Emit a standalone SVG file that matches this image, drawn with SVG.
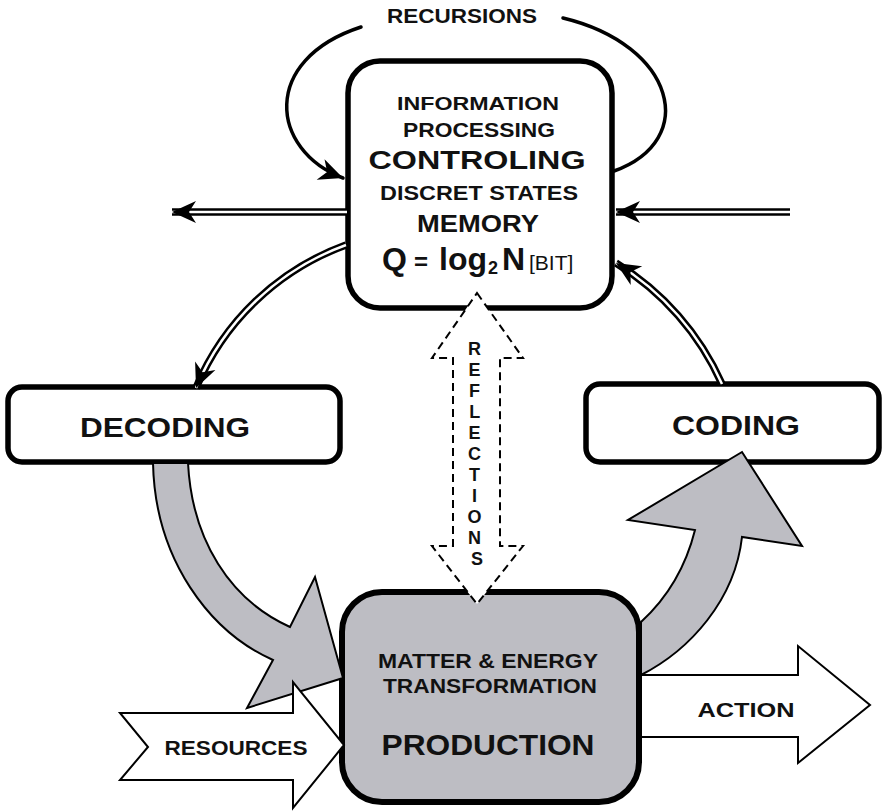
<svg xmlns="http://www.w3.org/2000/svg" width="886" height="812" viewBox="0 0 886 812">
  <style>
    .box { fill: #ffffff; stroke: #000000; stroke-width: 5.5; }
    .box-gray { fill: #bdbdc3; stroke: #000000; stroke-width: 6; }
    .t { font-family: "Liberation Sans", Arial, sans-serif; font-weight: bold; fill: #111111; text-anchor: middle; }
    .flow-gray { fill: #bdbdc3; stroke: #000000; stroke-width: 2; stroke-linejoin: miter; }
    .flow-white { fill: #ffffff; stroke: #000000; stroke-width: 2; stroke-linejoin: miter; }
    .dbl-out { fill: none; stroke: #000000; stroke-width: 7.5; }
    .dbl-in { fill: none; stroke: #ffffff; stroke-width: 2.5; }
    .loop { fill: none; stroke: #000000; stroke-width: 3.5; stroke-linecap: round; }
    .dashed { fill: #ffffff; stroke: #000000; stroke-width: 2; stroke-dasharray: 8 5; }
  </style>
  <defs>
    <!-- barbed arrowhead, tip at the path end -->
    <marker id="ah" markerUnits="userSpaceOnUse" viewBox="-26 -13 28 26" refX="0" refY="0" markerWidth="28" markerHeight="26" orient="auto">
      <path d="M0,0 L-24,-11 L-17,0 L-24,11 Z" fill="#000000"/>
    </marker>
  </defs>

  <rect width="886" height="812" fill="#ffffff"/>

  <!-- nodes -->
  <g id="decoding">
    <rect class="box" x="8" y="387" width="332" height="75" rx="14"/>
    <text class="t" x="165" y="437" font-size="27" textLength="170" lengthAdjust="spacingAndGlyphs">DECODING</text>
  </g>

  <g id="coding">
    <rect class="box" x="586" y="384" width="293" height="78" rx="14"/>
    <text class="t" x="736" y="435" font-size="28" textLength="128" lengthAdjust="spacingAndGlyphs">CODING</text>
  </g>

  <g id="production">
    <rect class="box-gray" x="342" y="592" width="297" height="210" rx="40"/>
    <text class="t" x="488" y="668" font-size="21" textLength="220" lengthAdjust="spacingAndGlyphs">MATTER &amp; ENERGY</text>
    <text class="t" x="490" y="693" font-size="21" textLength="214" lengthAdjust="spacingAndGlyphs">TRANSFORMATION</text>
    <text class="t" x="488" y="755" font-size="30" textLength="213" lengthAdjust="spacingAndGlyphs">PRODUCTION</text>
  </g>

  <g id="control">
    <rect class="box" x="348" y="61" width="264" height="247" rx="32"/>
    <text class="t" x="478" y="110" font-size="19" textLength="162" lengthAdjust="spacingAndGlyphs">INFORMATION</text>
    <text class="t" x="479" y="137" font-size="20" textLength="152" lengthAdjust="spacingAndGlyphs">PROCESSING</text>
    <text class="t" x="477" y="169" font-size="25" textLength="217" lengthAdjust="spacingAndGlyphs">CONTROLING</text>
    <text class="t" x="479" y="200" font-size="20" textLength="198" lengthAdjust="spacingAndGlyphs">DISCRET STATES</text>
    <text class="t" x="478" y="232" font-size="24" textLength="122" lengthAdjust="spacingAndGlyphs">MEMORY</text>
    <text class="t" y="270" style="text-anchor:start"><tspan x="382" font-size="32">Q</tspan><tspan x="414" font-size="24">=</tspan><tspan x="439" font-size="32">log</tspan><tspan x="488" y="274" font-size="18">2</tspan><tspan x="502" y="270" font-size="32">N</tspan><tspan x="529" font-size="21" font-weight="normal">[BIT]</tspan></text>
  </g>

  <!-- connectors -->
  <g id="connectors">
    <!-- broad gray flow: decoding to production -->
    <path class="flow-gray" d="M153,463 C155,560 210,632 273,660 L247,708 L343,678 L315,577 L290,627 C230,600 192,540 188,463 Z"/>
    <!-- broad gray flow: production to coding -->
    <path class="flow-gray" d="M641,675 C690,650 735,600 742,537 L802,546 L742,452 L628,520 L695,530 C685,570 665,600 641,622 Z"/>

    <!-- resources in, action out -->
    <g id="resources">
      <path class="flow-white" d="M120,713 L293,713 L293,682 L344,745 L293,808 L293,780 L120,780 L148,747 Z"/>
      <text class="t" x="236" y="755" font-size="20" textLength="143" lengthAdjust="spacingAndGlyphs">RESOURCES</text>
    </g>
    <g id="action">
      <path class="flow-white" d="M641,675 L798,675 L798,646 L870,705 L798,763 L798,737 L641,737 Z"/>
      <text class="t" x="746" y="717" font-size="21" textLength="97" lengthAdjust="spacingAndGlyphs">ACTION</text>
    </g>

    <!-- double-line information arrows -->
    <path class="dbl-out" d="M347,212 L172,212"/>
    <path class="dbl-in" d="M347,212 L172,212" marker-end="url(#ah)"/>
    <path class="dbl-out" d="M790,212 L616,212"/>
    <path class="dbl-in" d="M790,212 L616,212" marker-end="url(#ah)"/>
    <path class="dbl-out" d="M346,245 A258,258 0 0,0 196,388"/>
    <path class="dbl-in" d="M346,245 A258,258 0 0,0 196,388" marker-end="url(#ah)"/>
    <path class="dbl-out" d="M722,384 A272,272 0 0,0 616,263"/>
    <path class="dbl-in" d="M722,384 A272,272 0 0,0 616,263" marker-end="url(#ah)"/>

    <!-- recursion loop around the control box -->
    <path class="loop" d="M614,171 C700,140 675,45 563,18"/>
    <path class="loop" d="M361,27 C260,60 270,150 343,178" marker-end="url(#ah)"/>
    <text class="t" x="462" y="23" font-size="20" textLength="150" lengthAdjust="spacingAndGlyphs">RECURSIONS</text>

    <!-- reflections: dashed double-headed arrow -->
    <g id="reflections">
      <path class="dashed" d="M477,293 L523,358 L500,358 L500,546 L523,546 L477,604 L432,546 L453,546 L453,358 L432,358 Z"/>
      <text class="t" font-size="18">
        <tspan x="477" y="355">R</tspan>
        <tspan x="477" y="376">E</tspan>
        <tspan x="477" y="397">F</tspan>
        <tspan x="477" y="418">L</tspan>
        <tspan x="477" y="439">E</tspan>
        <tspan x="477" y="460">C</tspan>
        <tspan x="477" y="481">T</tspan>
        <tspan x="477" y="502">I</tspan>
        <tspan x="477" y="523">O</tspan>
        <tspan x="477" y="544">N</tspan>
        <tspan x="477" y="565">S</tspan>
      </text>
    </g>
  </g>
</svg>
